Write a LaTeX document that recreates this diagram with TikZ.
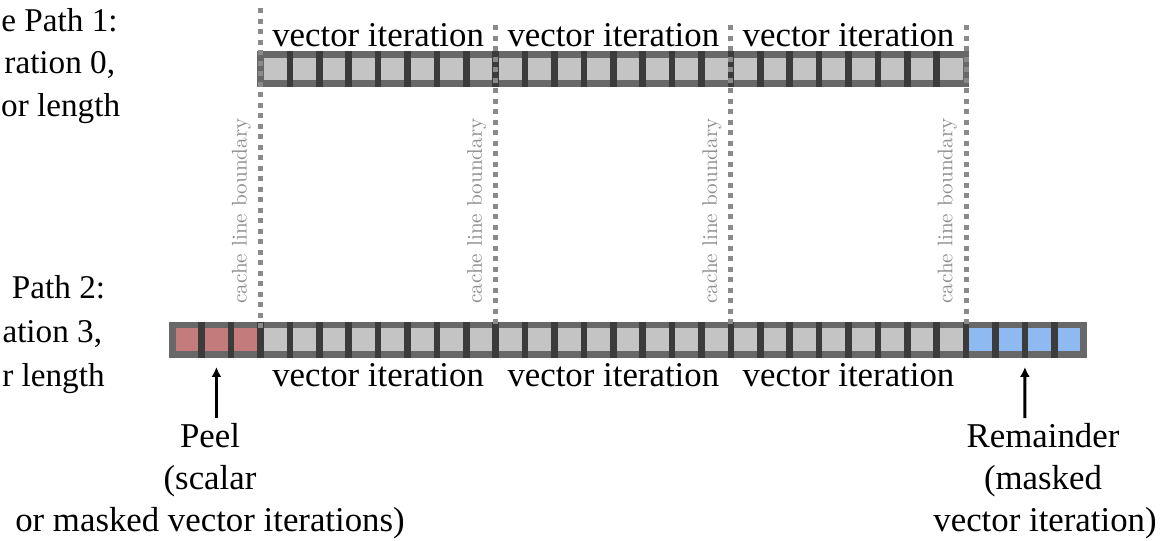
\documentclass[tikz,border=0pt]{standalone}
\usepackage{fontspec}
\usepackage{tikz}
\usetikzlibrary{arrows.meta}
\newfontfamily\tnr{Liberation Serif}
\definecolor{framegray}{HTML}{686868}
\definecolor{sepgray}{HTML}{3B3B3B}
\definecolor{cellgray}{HTML}{C4C4C4}
\definecolor{peelred}{HTML}{C47B7B}
\definecolor{remblue}{HTML}{8FB9F1}
\definecolor{linegray}{HTML}{8A8A8A}
\definecolor{labelgray}{HTML}{8E8E8E}
\pgfdeclarelayer{edgelayer}
\pgfdeclarelayer{nodelayer}
\pgfsetlayers{nodelayer,edgelayer,main}
\tikzstyle{none}=[inner sep=0pt]
\tikzstyle{cell}=[rectangle,draw=framegray,line width=3.35pt,inner sep=0pt,outer sep=0pt,minimum width=14.7pt,minimum height=14.65pt]
\tikzstyle{gc}=[cell,fill=cellgray]
\tikzstyle{rc}=[cell,fill=peelred]
\tikzstyle{bc}=[cell,fill=remblue]
\tikzstyle{tlabel}=[inner sep=0pt,anchor=base,font=\tnr\fontsize{17.4}{20}\selectfont]
\tikzstyle{sidelabel}=[inner sep=0pt,anchor=base east,font=\tnr\fontsize{16.6}{20}\selectfont]
\tikzstyle{clabel}=[inner sep=0pt,rotate=90,text=labelgray,font=\fontsize{10.6}{12}\selectfont]
\tikzstyle{divider}=[-,draw=sepgray,line width=18pt,dash pattern=on 3.35pt off 11.35pt,shorten <=-1.675pt,shorten >=-1.675pt]
\tikzstyle{cacheline}=[-,draw=linegray,line width=2.5pt,dash pattern=on 2.5pt off 2.75pt]
\tikzstyle{arrow}=[-{Latex[length=5pt,width=5pt]},draw=black,line width=1.5pt,shorten >=6.4pt]

\begin{document}
\begin{tikzpicture}[x=0.5pt,y=-0.5pt]
	\useasboundingbox (0,0) rectangle (1163,541);
	\begin{pgfonlayer}{nodelayer}
		\node [style=gc] (t0) at (275.2, 69) {};
		\node [style=gc] (t1) at (304.6, 69) {};
		\node [style=gc] (t2) at (334.0, 69) {};
		\node [style=gc] (t3) at (363.4, 69) {};
		\node [style=gc] (t4) at (392.8, 69) {};
		\node [style=gc] (t5) at (422.2, 69) {};
		\node [style=gc] (t6) at (451.6, 69) {};
		\node [style=gc] (t7) at (481.0, 69) {};
		\node [style=gc] (t8) at (510.4, 69) {};
		\node [style=gc] (t9) at (539.8, 69) {};
		\node [style=gc] (t10) at (569.2, 69) {};
		\node [style=gc] (t11) at (598.6, 69) {};
		\node [style=gc] (t12) at (628.0, 69) {};
		\node [style=gc] (t13) at (657.4, 69) {};
		\node [style=gc] (t14) at (686.8, 69) {};
		\node [style=gc] (t15) at (716.2, 69) {};
		\node [style=gc] (t16) at (745.6, 69) {};
		\node [style=gc] (t17) at (775.0, 69) {};
		\node [style=gc] (t18) at (804.4, 69) {};
		\node [style=gc] (t19) at (833.8, 69) {};
		\node [style=gc] (t20) at (863.2, 69) {};
		\node [style=gc] (t21) at (892.6, 69) {};
		\node [style=gc] (t22) at (922.0, 69) {};
		\node [style=gc] (t23) at (951.4, 69) {};
		\node [style=rc] (r0) at (187.0, 339.5) {};
		\node [style=rc] (r1) at (216.4, 339.5) {};
		\node [style=rc] (r2) at (245.8, 339.5) {};
		\node [style=gc] (g0) at (275.2, 339.5) {};
		\node [style=gc] (g1) at (304.6, 339.5) {};
		\node [style=gc] (g2) at (334.0, 339.5) {};
		\node [style=gc] (g3) at (363.4, 339.5) {};
		\node [style=gc] (g4) at (392.8, 339.5) {};
		\node [style=gc] (g5) at (422.2, 339.5) {};
		\node [style=gc] (g6) at (451.6, 339.5) {};
		\node [style=gc] (g7) at (481.0, 339.5) {};
		\node [style=gc] (g8) at (510.4, 339.5) {};
		\node [style=gc] (g9) at (539.8, 339.5) {};
		\node [style=gc] (g10) at (569.2, 339.5) {};
		\node [style=gc] (g11) at (598.6, 339.5) {};
		\node [style=gc] (g12) at (628.0, 339.5) {};
		\node [style=gc] (g13) at (657.4, 339.5) {};
		\node [style=gc] (g14) at (686.8, 339.5) {};
		\node [style=gc] (g15) at (716.2, 339.5) {};
		\node [style=gc] (g16) at (745.6, 339.5) {};
		\node [style=gc] (g17) at (775.0, 339.5) {};
		\node [style=gc] (g18) at (804.4, 339.5) {};
		\node [style=gc] (g19) at (833.8, 339.5) {};
		\node [style=gc] (g20) at (863.2, 339.5) {};
		\node [style=gc] (g21) at (892.6, 339.5) {};
		\node [style=gc] (g22) at (922.0, 339.5) {};
		\node [style=gc] (g23) at (951.4, 339.5) {};
		\node [style=bc] (b0) at (980.8, 339.5) {};
		\node [style=bc] (b1) at (1010.2, 339.5) {};
		\node [style=bc] (b2) at (1039.6, 339.5) {};
		\node [style=bc] (b3) at (1069.0, 339.5) {};
		\node [style=tlabel] (vt0) at (378.1, 46) {vector iteration};
		\node [style=tlabel] (vt1) at (613.3, 46) {vector iteration};
		\node [style=tlabel] (vt2) at (848.5, 46) {vector iteration};
		\node [style=tlabel] (vb0) at (378.1, 386) {vector iteration};
		\node [style=tlabel] (vb1) at (613.3, 386) {vector iteration};
		\node [style=tlabel] (vb2) at (848.5, 386) {vector iteration};
		\node [style=sidelabel] (p1a) at (118, 31) {e Path 1:};
		\node [style=sidelabel] (p1b) at (115.5, 73) {ration 0,};
		\node [style=sidelabel] (p1c) at (120.5, 116) {or length};
		\node [style=sidelabel] (p2a) at (105.5, 298) {Path 2:};
		\node [style=sidelabel] (p2b) at (102.5, 342) {ation 3,};
		\node [style=sidelabel] (p2c) at (105, 386) {r length};
		\node [style=tlabel] (peel1) at (210, 447) {Peel};
		\node [style=tlabel] (peel2) at (210, 489) {(scalar};
		\node [style=tlabel] (peel3) at (210, 531) {or masked vector iterations)};
		\node [style=tlabel] (rem1) at (1043, 447) {Remainder};
		\node [style=tlabel] (rem2) at (1043, 489) {(masked};
		\node [style=tlabel] (rem3) at (1045, 531) {vector iteration)};
		\node [style=clabel] (cl0) at (241.5, 211) {cache line boundary};
		\node [style=clabel] (cl1) at (476.7, 211) {cache line boundary};
		\node [style=clabel] (cl2) at (711.9, 211) {cache line boundary};
		\node [style=clabel] (cl3) at (947.1, 211) {cache line boundary};
		\node [style=none] (c0top) at (260.5, 8) {};
		\node [style=none] (c0bot) at (260.5, 328) {};
		\node [style=none] (c1top) at (495.7, 25) {};
		\node [style=none] (c1bot) at (495.7, 328) {};
		\node [style=none] (c2top) at (730.9, 25) {};
		\node [style=none] (c2bot) at (730.9, 328) {};
		\node [style=none] (c3top) at (966.1, 25) {};
		\node [style=none] (c3bot) at (966.1, 328) {};
		\node [style=none] (peelfoot) at (216.4, 418) {};
		\node [style=none] (remfoot) at (1024.9, 418) {};
	\end{pgfonlayer}
	\begin{pgfonlayer}{edgelayer}
		\draw [style=divider] (t0.east) to (t23.west);
		\draw [style=divider] (r0.east) to (b3.west);
		\draw [style=cacheline] (c0top.center) to (c0bot.center);
		\draw [style=cacheline] (c1top.center) to (c1bot.center);
		\draw [style=cacheline] (c2top.center) to (c2bot.center);
		\draw [style=cacheline] (c3top.center) to (c3bot.center);
		\draw [style=arrow] (peelfoot.center) to (r1.south);
		\draw [style=arrow] (remfoot.center) to (b1.south east);
	\end{pgfonlayer}
\end{tikzpicture}
\end{document}
